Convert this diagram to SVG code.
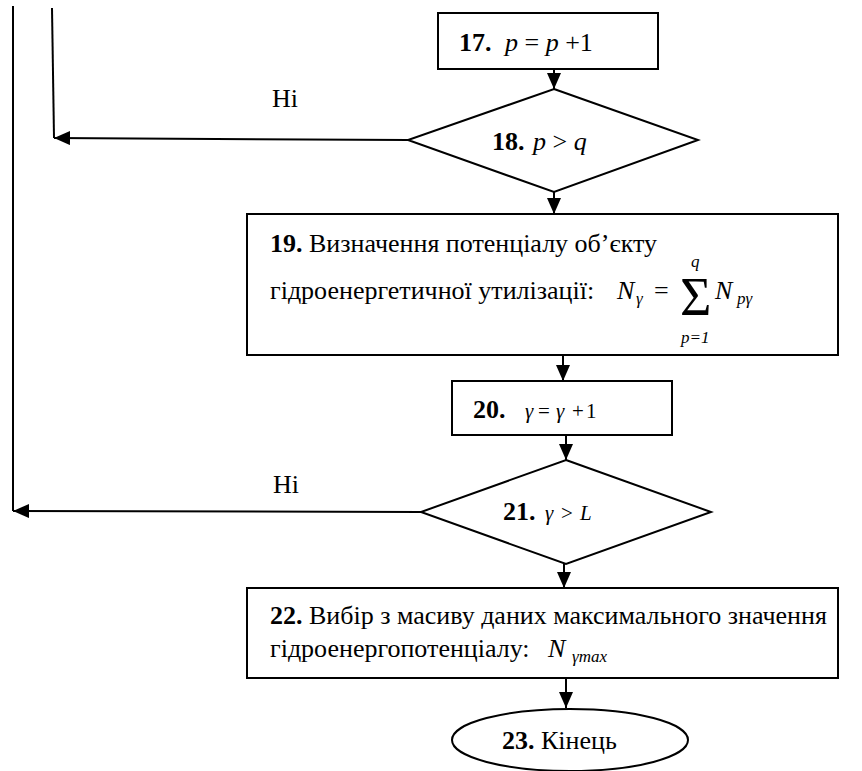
<svg xmlns="http://www.w3.org/2000/svg" width="862" height="771" viewBox="0 0 862 771" font-family="'Liberation Serif', 'DejaVu Serif', 'Noto Serif', serif">
<defs>
<style>
.s{fill:#fff;stroke:#000;stroke-width:2}
.c{fill:none;stroke:#000;stroke-width:2}
text{font-family:'Liberation Serif','DejaVu Serif',serif;fill:#000}
.t{font-size:26px}
.b{font-weight:bold}
.i{font-style:italic}
.sm{font-size:17px;font-style:italic}
.m{font-size:21px}
</style>
<marker id="ah" markerWidth="16" markerHeight="14" refX="16" refY="7" orient="auto" markerUnits="userSpaceOnUse">
<path d="M0,0 L16,7 L0,14 z" fill="#000"/>
</marker>
</defs>
<rect width="862" height="771" fill="#fff"/>
<g id="connectors">
<path class="c" d="M13,6 L13,511"/>
<path class="c" d="M421,512 L13,511" marker-end="url(#ah)"/>
<path class="c" d="M52,8 L54,138"/>
<path class="c" d="M408,140 L54,138" marker-end="url(#ah)"/>
<path class="c" d="M554,69 L554,89" marker-end="url(#ah)"/>
<path class="c" d="M554,192 L554,214" marker-end="url(#ah)"/>
<path class="c" d="M563,355 L563,381" marker-end="url(#ah)"/>
<path class="c" d="M566,435 L566,460" marker-end="url(#ah)"/>
<path class="c" d="M564,564 L564,588" marker-end="url(#ah)"/>
<path class="c" d="M566,678 L566,708" marker-end="url(#ah)"/>
<text class="t" x="272" y="107">Ні</text>
<text class="t" x="273" y="493">Ні</text>
</g>
<g id="n17">
<rect class="s" x="438" y="13" width="220" height="56"/>
<text class="t b" x="459" y="51">17.</text>
<text class="t" x="505" y="51"><tspan class="i">p</tspan> = <tspan class="i">p</tspan> +1</text>
</g>
<g id="n18">
<path class="s" d="M554,89 L698,140 L554,192 L408,140 z"/>
<text class="t b" x="492" y="150">18.</text>
<text class="t" x="533" y="150"><tspan class="i">p</tspan> &gt; <tspan class="i">q</tspan></text>
</g>
<g id="n19">
<rect class="s" x="247" y="214" width="591" height="141"/>
<text class="t" x="270" y="252"><tspan class="b">19.</tspan> Визначення потенціалу об’єкту</text>
<text class="t" x="270" y="299">гідроенергетичної утилізації:</text>
<text class="t i" x="617" y="299">N</text>
<text class="sm" x="636" y="304">γ</text>
<text class="t" x="654" y="299">=</text>
<text x="680" y="315" font-size="54">Σ</text>
<text class="sm" x="691" y="267">q</text>
<text class="sm" x="681" y="343">p=1</text>
<text class="t i" x="715" y="299">N</text>
<text class="sm" x="737" y="304">pγ</text>
</g>
<g id="n20">
<rect class="s" x="452" y="381" width="220" height="54"/>
<text class="t b" x="473" y="418">20.</text>
<text class="m" y="418"><tspan class="i" x="525">γ</tspan><tspan x="538">=</tspan><tspan class="i" x="556">γ</tspan><tspan x="572">+</tspan><tspan x="586">1</tspan></text>
</g>
<g id="n21">
<path class="s" d="M566,460 L711,512 L566,564 L421,512 z"/>
<text class="t b" x="503" y="520">21.</text>
<text class="m" y="520"><tspan class="i" x="545">γ</tspan><tspan x="561">&gt;</tspan><tspan class="i" x="580">L</tspan></text>
</g>
<g id="n22">
<rect class="s" x="247" y="588" width="591" height="90"/>
<text class="t" x="270" y="624"><tspan class="b">22.</tspan> Вибір з масиву даних максимального значення</text>
<text class="t" x="270" y="657">гідроенергопотенціалу:</text>
<text class="t i" x="548" y="657">N</text>
<text class="sm" x="572" y="662" font-size="15">γmax</text>
</g>
<g id="n23">
<ellipse class="s" cx="570" cy="740" rx="118" ry="31"/>
<text class="t" x="502" y="749"><tspan class="b">23.</tspan> Кінець</text>
</g>
</svg>
